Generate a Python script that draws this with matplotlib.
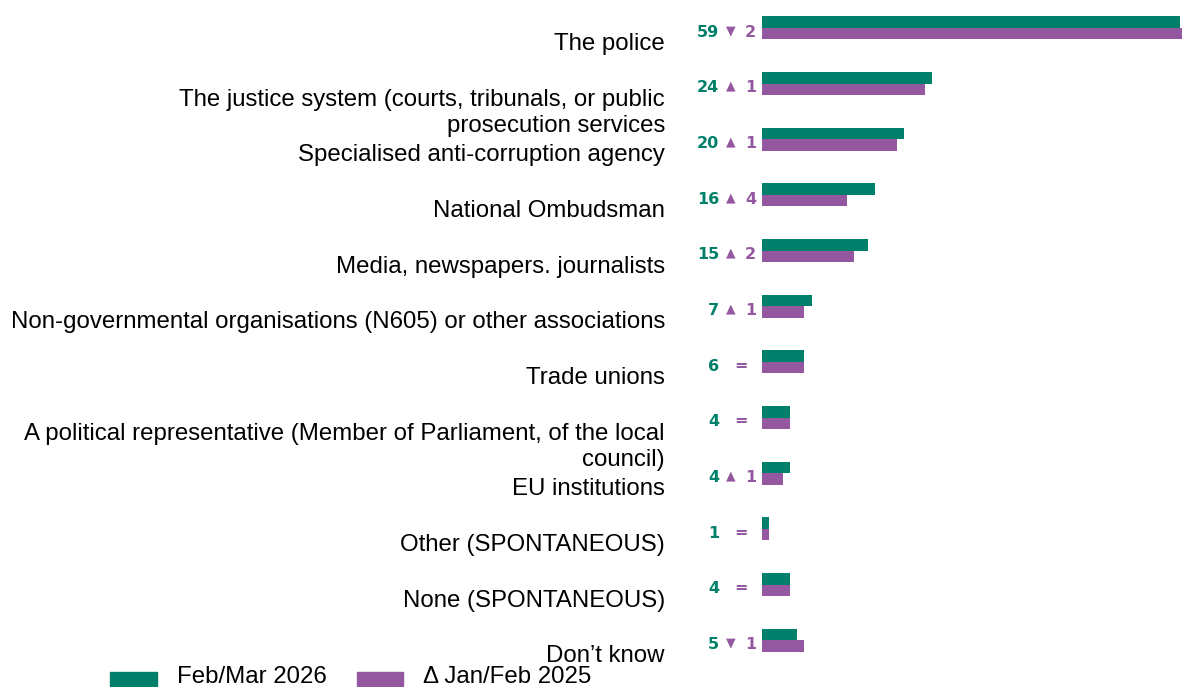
import numpy as np
import matplotlib
matplotlib.use('Agg')
import matplotlib.pyplot as plt
from matplotlib.transforms import blended_transform_factory
from matplotlib.patches import Rectangle

categories = [
    "The police",
    "The justice system (courts, tribunals, or public\nprosecution services",
    "Specialised anti-corruption agency",
    "National Ombudsman",
    "Media, newspapers. journalists",
    "Non-governmental organisations (N605) or other associations",
    "Trade unions",
    "A political representative (Member of Parliament, of the local\ncouncil)",
    "EU institutions",
    "Other (SPONTANEOUS)",
    "None (SPONTANEOUS)",
    "Don\u2019t know",
]
current = [59, 24, 20, 16, 15, 7, 6, 4, 4, 1, 4, 5]
previous = [61, 23, 19, 12, 13, 6, 6, 4, 3, 1, 4, 6]
delta = [c - p for c, p in zip(current, previous)]

green = '#00806a'
purple = '#9458a0'

fig = plt.figure(figsize=(11.82, 6.87), dpi=100)
ax = fig.add_axes([762 / 1182, 1 - 668 / 687, 420 / 1182, 668 / 687])

y = np.arange(len(categories))
h = 0.205
ax.barh(y - h / 2, current, height=h, color=green)
ax.barh(y + h / 2, previous, height=h, color=purple)
ax.set_xlim(0, 59.3)
ax.set_ylim(len(categories) - 0.5, -0.5)
ax.axis('off')

trans = blended_transform_factory(fig.transFigure, ax.transData)
for i, cat in enumerate(categories):
    ax.text(665 / 1182, i + 0.09, cat, transform=trans, ha='right', va='top',
            fontsize=17.3, family='Liberation Sans', color='black', linespacing=1.25)
    ax.text(719 / 1182, i + 0.08, str(current[i]), transform=trans, ha='right',
            va='center', fontsize=11.5, fontweight='bold', color=green,
            family='DejaVu Sans')
    d = delta[i]
    if d == 0:
        ax.text(741 / 1182, i + 0.06, '=', transform=trans, ha='center',
                va='center', fontsize=11.5, fontweight='bold', color=purple)
    else:
        sym = '\u25b2' if d > 0 else '\u25bc'
        ax.text(731 / 1182, i + 0.05, sym, transform=trans, ha='center',
                va='center', fontsize=9, color=purple, family='DejaVu Sans')
        ax.text(745 / 1182, i + 0.08, str(abs(d)), transform=trans, ha='left',
                va='center', fontsize=11.5, fontweight='bold', color=purple,
                family='DejaVu Sans')

# legend
fig.patches.append(Rectangle((110 / 1182, 1 - 686 / 687), 47 / 1182, 14 / 687,
                             transform=fig.transFigure, color=green))
fig.text(177 / 1182, 1 - 677 / 687, 'Feb/Mar 2026', fontsize=17.3,
         family='Liberation Sans', va='center')
fig.patches.append(Rectangle((357 / 1182, 1 - 686 / 687), 46 / 1182, 14 / 687,
                             transform=fig.transFigure, color=purple))
fig.text(423 / 1182, 1 - 677 / 687, '\u0394 Jan/Feb 2025', fontsize=17.3,
         family='Liberation Sans', va='center')

plt.savefig('out.png', dpi=100)
